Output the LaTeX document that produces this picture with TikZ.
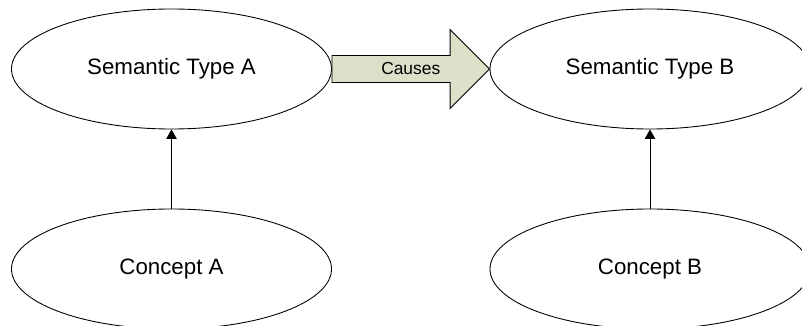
\documentclass[tikz,border=0pt]{standalone}
\usepackage{fontspec}
\setmainfont{Liberation Sans}
\usetikzlibrary{shapes.geometric,arrows.meta,calc}

\definecolor{causefill}{RGB}{221,224,200}

\tikzset{
  oval/.style={draw, ellipse, line width=0.5pt, inner sep=0pt,
    minimum width=6.4cm, minimum height=2.4cm,
    font=\fontsize{12.7}{15}\selectfont},
  link/.style={line width=0.5pt, -{Triangle[width=2.1mm,length=1.9mm]}}
}

\begin{document}
\begin{tikzpicture}
  \useasboundingbox (0,0) rectangle (16.04,6.52);

  \node [oval] at (3.43,5.14)  (SemA)  {Semantic Type A};
  \node [oval] at (13.0,5.14)  (SemB)  {Semantic Type B};
  \node [oval] at (3.43,1.14)  (ConA)  {Concept A};
  \node [oval] at (13.0,1.14)  (ConB)  {Concept B};

  \draw [link] (ConA) -- (SemA);
  \draw [link] (ConB) -- (SemB);

  % block arrow between the two types
  \draw [line width=0.5pt, fill=causefill]
    ($(SemA.east)+(0,0.27)$) -- ($(SemB.west)+(-0.79,0.27)$)
    -- ($(SemB.west)+(-0.79,0.79)$) -- (SemB.west)
    -- ($(SemB.west)+(-0.79,-0.79)$) -- ($(SemB.west)+(-0.79,-0.27)$)
    -- ($(SemA.east)+(0,-0.27)$) -- cycle;
  \node [font=\fontsize{9.9}{12}\selectfont] at ($(SemA.east)!0.5!(SemB.west)$) (Cause) {Causes};
\end{tikzpicture}
\end{document}
